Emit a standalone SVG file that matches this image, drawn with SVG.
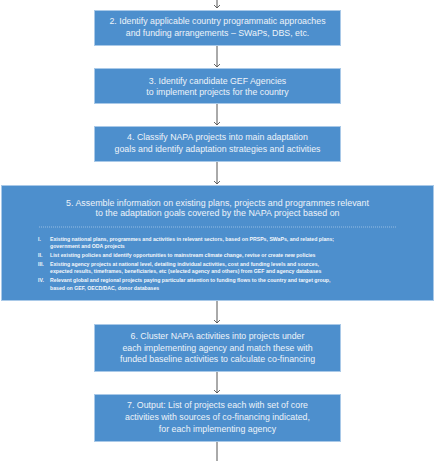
<svg xmlns="http://www.w3.org/2000/svg" width="437" height="461" viewBox="0 0 437 461">
<style>
.box{fill:#4D8FCD;stroke:#A9C9E8;stroke-width:1}
.t{font-family:"Liberation Sans",Arial,sans-serif;font-size:8.8px;fill:#EEF3F9;text-anchor:middle}
.t5{font-size:8.9px}
.li{font-family:"Liberation Sans",Arial,sans-serif;font-size:5.2px;font-weight:bold;fill:#F4F7FB}
.c{stroke:#555;stroke-width:1;fill:none}
</style>
<defs>
<marker id="ah" markerWidth="8" markerHeight="8" refX="4" refY="4" orient="auto" markerUnits="userSpaceOnUse">
<path d="M1,1 L4,4 L1,7" fill="none" stroke="#555" stroke-width="0.9"/>
</marker>
</defs>
<rect width="437" height="461" fill="#fff"/>
<g id="connectors">
<line class="c" x1="217" y1="0" x2="217" y2="8" marker-end="url(#ah)"/>
<line class="c" x1="217" y1="45" x2="217" y2="67" marker-end="url(#ah)"/>
<line class="c" x1="217" y1="103" x2="217" y2="125" marker-end="url(#ah)"/>
<line class="c" x1="217" y1="162" x2="217" y2="184" marker-end="url(#ah)"/>
<line class="c" x1="217" y1="301" x2="217" y2="323" marker-end="url(#ah)"/>
<line class="c" x1="217" y1="371" x2="217" y2="393" marker-end="url(#ah)"/>
<line class="c" x1="217" y1="441" x2="217" y2="461"/>
</g>
<g id="node2">
<rect class="box" x="94.5" y="10.5" width="246" height="35"/>
<text class="t" x="217.5" y="23.8">2. Identify applicable country programmatic approaches</text>
<text class="t" x="217.5" y="36.1">and funding arrangements – SWaPs, DBS, etc.</text>
</g>
<g id="node3">
<rect class="box" x="94.5" y="68.5" width="246" height="35"/>
<text class="t" x="217.5" y="83.8">3. Identify candidate GEF Agencies</text>
<text class="t" x="217.5" y="94.8">to implement projects for the country</text>
</g>
<g id="node4">
<rect class="box" x="94.5" y="126.5" width="246" height="35"/>
<text class="t" x="217.5" y="139.8">4. Classify NAPA projects into main adaptation</text>
<text class="t" x="217.5" y="152.1">goals and identify adaptation strategies and activities</text>
</g>
<g id="node5">
<rect class="box" x="1.5" y="185.5" width="432" height="115"/>
<text class="t t5" x="217.5" y="205.9">5. Assemble information on existing plans, projects and programmes relevant</text>
<text class="t t5" x="217.5" y="215.9">to the adaptation goals covered by the NAPA project based on</text>
<line x1="39" y1="227" x2="397" y2="227" stroke="#C9DDF1" stroke-width="0.6" stroke-dasharray="1,1"/>
<text class="li" x="38" y="241.2">I.</text>
<text class="li" x="50" y="241.2">Existing national plans, programmes and activities in relevant sectors, based on PRSPs, SWaPs, and related plans;</text>
<text class="li" x="50" y="248.2">government and ODA projects</text>
<text class="li" x="38" y="257.2">II.</text>
<text class="li" x="50" y="257.2">List existing policies and identify opportunities to mainstream climate change, revise or create new policies</text>
<text class="li" x="38" y="266.2">III.</text>
<text class="li" x="50" y="266.2">Existing agency projects at national level, detailing individual activities, cost and funding levels and sources,</text>
<text class="li" x="50" y="273.2">expected results, timeframes, beneficiaries, etc (selected agency and others) from GEF and agency databases</text>
<text class="li" x="38" y="282.2">IV.</text>
<text class="li" x="50" y="282.2">Relevant global and regional projects paying particular attention to funding flows to the country and target group,</text>
<text class="li" x="50" y="289.8">based on GEF, OECD/DAC, donor databases</text>
</g>
<g id="node6">
<rect class="box" x="94.5" y="324.5" width="246" height="47"/>
<text class="t" x="217.5" y="338.8">6. Cluster NAPA activities into projects under</text>
<text class="t" x="217.5" y="350.8">each implementing agency and match these with</text>
<text class="t" x="217.5" y="362.4">funded baseline activities to calculate co-financing</text>
</g>
<g id="node7">
<rect class="box" x="94.5" y="394.5" width="246" height="47"/>
<text class="t" x="217.5" y="407.8">7. Output:  List of projects each with set of core</text>
<text class="t" x="217.5" y="419.8">activities with sources of co-financing indicated,</text>
<text class="t" x="217.5" y="431.8">for each implementing agency</text>
</g>
</svg>
